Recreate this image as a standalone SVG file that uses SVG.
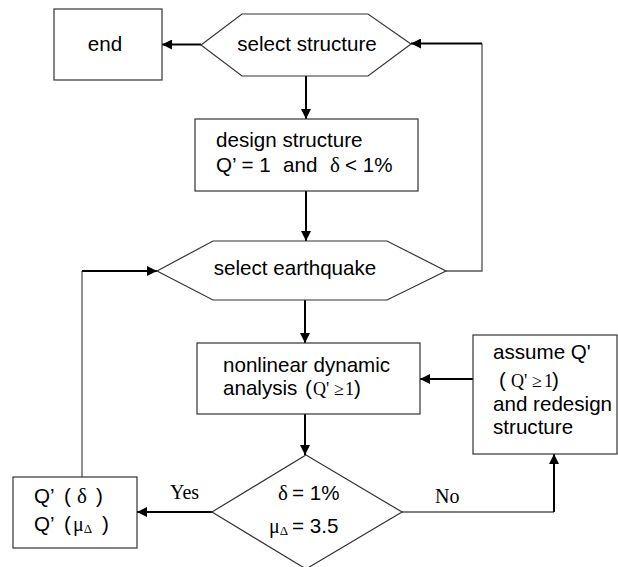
<svg xmlns="http://www.w3.org/2000/svg" width="618" height="567" viewBox="0 0 618 567">
<style>
.shape{fill:#fff;stroke:#333;stroke-width:1.2}
.t{font-family:"Liberation Sans",Arial,sans-serif;font-size:20.6px;fill:#000}
.s{font-family:"Liberation Serif","Times New Roman",serif;fill:#000}
.c{fill:none;stroke:#000;stroke-width:2}
.cl{fill:none;stroke:#555;stroke-width:1.3}
</style>
<defs>
<marker id="ah" viewBox="0 0 10 10" refX="10" refY="5" markerWidth="5" markerHeight="5" orient="auto" markerUnits="strokeWidth">
<path d="M0,0 L10,5 L0,10 z" fill="#000"/>
</marker>
</defs>
<rect width="618" height="567" fill="#fff"/>
<g id="connectors">
<line class="c" x1="201" y1="44.5" x2="162" y2="44.5" marker-end="url(#ah)"/>
<line class="c" x1="306" y1="76" x2="306" y2="119" marker-end="url(#ah)"/>
<line class="c" x1="306" y1="191" x2="306" y2="241" marker-end="url(#ah)"/>
<polyline class="cl" points="446,271 482,271 482,43.5"/>
<line class="c" x1="482" y1="43.5" x2="411" y2="43.5" marker-end="url(#ah)"/>
<line class="c" x1="305" y1="300" x2="305" y2="343" marker-end="url(#ah)"/>
<line class="c" x1="473" y1="379" x2="420" y2="379" marker-end="url(#ah)"/>
<line class="c" x1="305" y1="414" x2="305" y2="455" marker-end="url(#ah)"/>
<line class="c" x1="212" y1="512" x2="137" y2="512" marker-end="url(#ah)"/>
<line class="cl" x1="82" y1="477" x2="82" y2="271"/>
<line class="c" x1="82" y1="271" x2="157" y2="271" marker-end="url(#ah)"/>
<line class="cl" x1="402" y1="512" x2="554" y2="512"/>
<line class="c" x1="554" y1="512" x2="554" y2="454" marker-end="url(#ah)"/>
<text class="s" x="170" y="499" font-size="20">Yes</text>
<text class="s" x="435" y="503" font-size="20">No</text>
</g>
<g id="end">
<rect class="shape" x="54" y="9" width="108" height="71"/>
<text class="t" x="105" y="51" text-anchor="middle">end</text>
</g>
<g id="select-structure">
<polygon class="shape" points="201,45 242,14 368,14 411,44 368,76 242,76"/>
<text class="t" x="307" y="51" text-anchor="middle">select structure</text>
</g>
<g id="design-structure">
<rect class="shape" x="195" y="119" width="223" height="72"/>
<text class="t" x="216" y="147">design structure</text>
<text class="t" y="172"><tspan x="216">Q’ = 1</tspan><tspan x="283">and</tspan><tspan x="330" class="s" font-size="21">δ</tspan><tspan x="345">&lt; 1%</tspan></text>
</g>
<g id="select-earthquake">
<polygon class="shape" points="157,271 213,241 387,241 446,271 387,300 213,300"/>
<text class="t" x="295" y="275" text-anchor="middle">select earthquake</text>
</g>
<g id="nonlinear-analysis">
<rect class="shape" x="197" y="343" width="223" height="71"/>
<text class="t" x="223" y="372">nonlinear dynamic</text>
<text class="t" y="395"><tspan x="223">analysis</tspan><tspan x="305">(</tspan><tspan x="313" class="s" font-size="18">Q'</tspan><tspan x="334" class="s" font-size="18">≥</tspan><tspan x="345" class="s" font-size="18">1</tspan><tspan x="354">)</tspan></text>
</g>
<g id="assume-q">
<rect class="shape" x="473" y="335" width="144" height="119"/>
<text class="t" x="493" y="359">assume Q'</text>
<text class="t" y="387"><tspan x="499">(</tspan><tspan x="511" class="s" font-size="18">Q'</tspan><tspan x="532" class="s" font-size="18">≥</tspan><tspan x="544" class="s" font-size="18">1</tspan><tspan x="552">)</tspan></text>
<text class="t" x="493" y="411">and redesign</text>
<text class="t" x="493" y="434">structure</text>
</g>
<g id="check">
<polygon class="shape" points="306,455 402,512 306,569 212,512"/>
<text class="t" y="500"><tspan x="278" class="s" font-size="21">δ</tspan><tspan x="292">= 1%</tspan></text>
<text class="t" y="533"><tspan x="269" class="s" font-size="20">μ</tspan><tspan class="s" font-size="13" dy="2">Δ</tspan><tspan x="292" dy="-2">= 3.5</tspan></text>
</g>
<g id="q-result">
<rect class="shape" x="13" y="477" width="124" height="71"/>
<text class="t" y="503"><tspan x="34">Q’</tspan><tspan x="64">(</tspan><tspan x="77" class="s" font-size="21">δ</tspan><tspan x="96">)</tspan></text>
<text class="t" y="531"><tspan x="34">Q’</tspan><tspan x="64">(</tspan><tspan x="73" class="s" font-size="20">μ</tspan><tspan class="s" font-size="13" dy="2">Δ</tspan><tspan x="102" dy="-2">)</tspan></text>
</g>
</svg>
